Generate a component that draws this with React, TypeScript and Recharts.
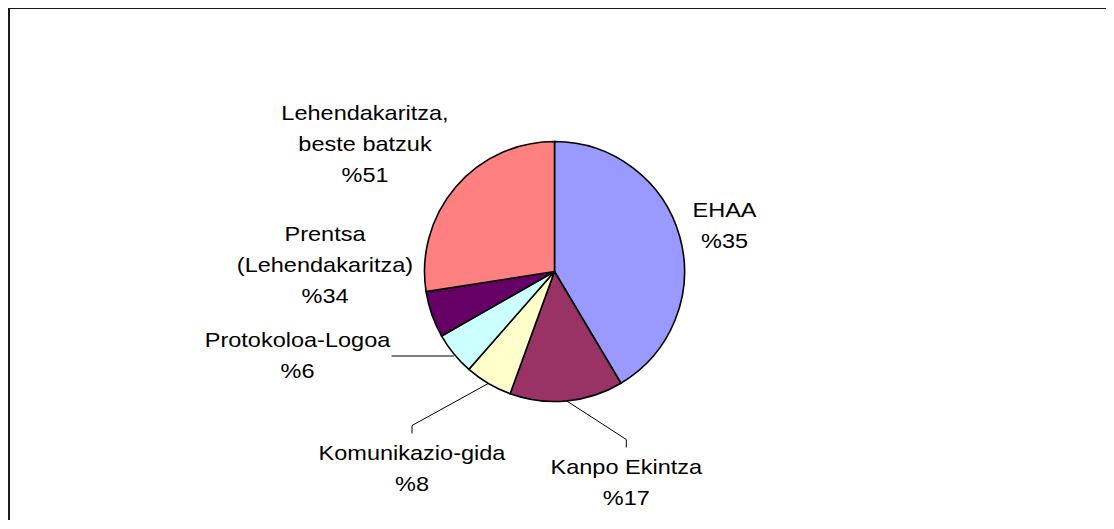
import { PieChart, Pie, Cell } from 'recharts';

// slice shares
const categories = [
  'EHAA',
  'Kanpo Ekintza',
  'Komunikazio-gida',
  'Protokoloa-Logoa',
  'Prentsa (Lehendakaritza)',
  'Lehendakaritza, beste batzuk',
];
const shares = [41.5, 14.1, 5.9, 5.3, 5.8, 27.5];
const labelTexts = [
  ['EHAA', '%35'],
  ['Kanpo Ekintza', '%17'],
  ['Komunikazio-gida', '%8'],
  ['Protokoloa-Logoa', '%6'],
  ['Prentsa', '(Lehendakaritza)', '%34'],
  ['Lehendakaritza,', 'beste batzuk', '%51'],
];
const sliceColors = ['#9999FF', '#993366', '#FFFFCC', '#CCFFFF', '#660066', '#FF8080'];

const data = categories.map((name, i) => ({ name, value: shares[i] }));

// label placement relative to pie centre (first baseline)
const labelLayout = [
  { dx: 170, dy: -54.8, leader: 'none' },
  { dx: 71.8, dy: 202.5, leader: 'elbow' },
  { dx: -142.5, dy: 188.5, leader: 'elbow' },
  { dx: -257, dy: 75.2, leader: 'side' },
  { dx: -229.5, dy: -30.5, leader: 'none' },
  { dx: -189.5, dy: -151.5, leader: 'none' },
];

const RAD = Math.PI / 180;
const LINE_GAP = 31;
const FONT = '"Liberation Sans", Arial, sans-serif';

function renderLabel(props: any) {
  const { cx, cy, midAngle, outerRadius, index } = props;
  const lay = labelLayout[index];
  const lx = cx + lay.dx;
  const by = cy + lay.dy;
  const ex = cx + outerRadius * Math.cos(-midAngle * RAD);
  const ey = cy + outerRadius * Math.sin(-midAngle * RAD);

  let leader = null;
  if (lay.leader === 'elbow') {
    leader = (
      <polyline
        points={`${ex},${ey} ${lx},${by - 34.5} ${lx},${by - 26.5}`}
        fill="none"
        stroke="#000"
        strokeWidth={1}
      />
    );
  } else if (lay.leader === 'side') {
    leader = (
      <polyline points={`${ex},${by + 9.3} ${lx + 94},${by + 9.3}`} fill="none" stroke="#000" strokeWidth={1} />
    );
  }

  return (
    <g key={`lbl-${index}`}>
      {leader}
      {labelTexts[index].map((t, j) => (
        <text
          key={j}
          transform={`translate(${lx} ${by + j * LINE_GAP}) scale(1.12 1)`}
          x={0}
          y={0}
          textAnchor="middle"
          fontFamily={FONT}
          fontSize={21}
          fill="#000"
        >
          {t}
        </text>
      ))}
    </g>
  );
}

export default function App() {
  return (
    <div
      style={{
        marginTop: -1,
        width: 1098,
        height: 513,
        borderLeft: '2px solid #1a1a1a',
        borderTop: '2px solid #1a1a1a',
        boxSizing: 'border-box',
        background: '#fff',
      }}
    >
      <PieChart width={1096} height={511} margin={{ top: 0, right: 0, bottom: 0, left: 0 }}>
        <Pie
          data={data}
          dataKey="value"
          nameKey="name"
          cx={544.5}
          cy={262.5}
          outerRadius={130}
          startAngle={90}
          endAngle={-270}
          stroke="#000"
          strokeWidth={1.6}
          label={renderLabel}
          labelLine={false}
          isAnimationActive={false}
        >
          {data.map((d, i) => (
            <Cell key={d.name} fill={sliceColors[i]} />
          ))}
        </Pie>
      </PieChart>
    </div>
  );
}
